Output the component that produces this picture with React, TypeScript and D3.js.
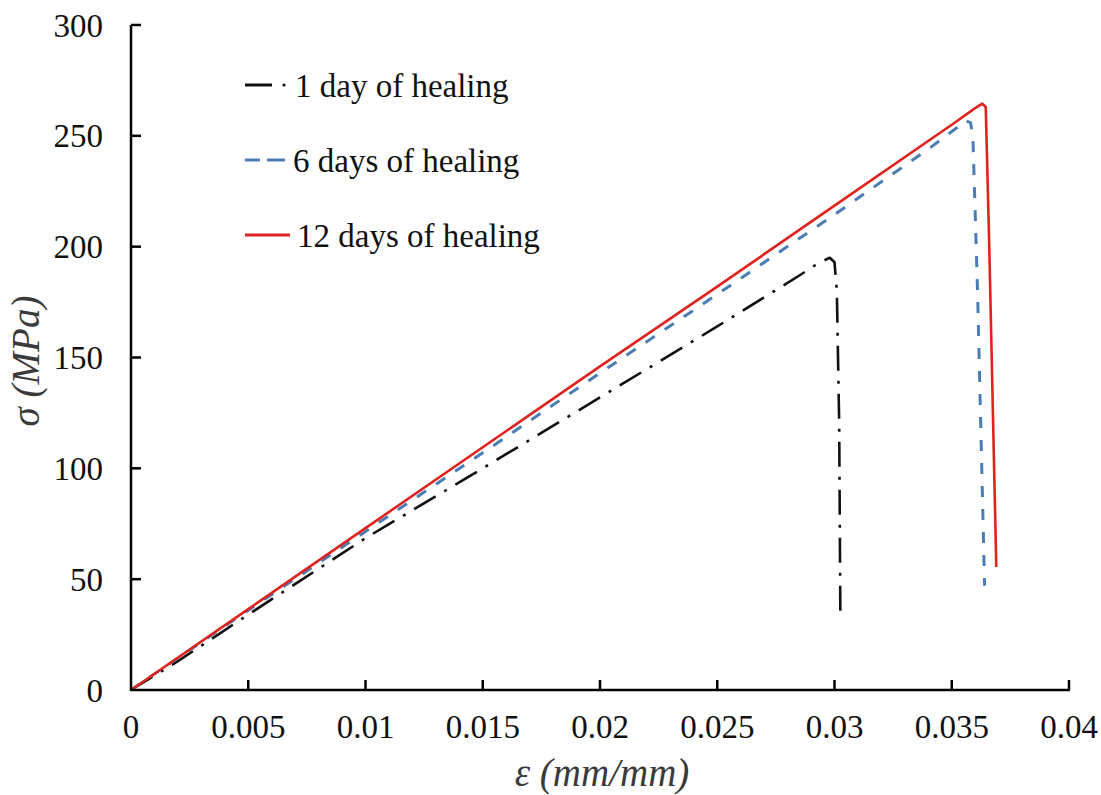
import React from "react";
import * as d3 from "d3";

const xTicks = [0, 0.005, 0.01, 0.015, 0.02, 0.025, 0.03, 0.035, 0.04];
const xTickLabels = ["0", "0.005", "0.01", "0.015", "0.02", "0.025", "0.03", "0.035", "0.04"];
const yTicks = [0, 50, 100, 150, 200, 250, 300];

const day1: [number, number][] = [
  [0, 0], [0.002, 13], [0.005, 34], [0.01, 68.5], [0.015, 100], [0.02, 132],
  [0.025, 164], [0.0285, 187], [0.0293, 192.5], [0.0298, 195], [0.0300, 193],
  [0.0301, 180], [0.0302, 120], [0.03025, 34],
];
const day6: [number, number][] = [
  [0, 0], [0.005, 36], [0.01, 71.5], [0.015, 107], [0.02, 143], [0.025, 178.5],
  [0.03, 214.5], [0.034, 244], [0.0352, 253.5], [0.03555, 257], [0.0358, 256],
  [0.0359, 250], [0.0361, 180], [0.0364, 47],
];
const day12: [number, number][] = [
  [0, 0], [0.005, 36.5], [0.01, 73], [0.015, 109.5], [0.02, 146], [0.025, 182],
  [0.03, 218.5], [0.035, 255], [0.0360, 262.5], [0.0363, 264.5], [0.03645, 263],
  [0.0366, 200], [0.0369, 55.5],
];

const series = [
  { name: "1 day of healing", data: day1, color: "#111111", dash: "25 10 3 10", width: 2.6 },
  { name: "6 days of healing", data: day6, color: "#4a7db3", dash: "11 12", width: 3 },
  { name: "12 days of healing", data: day12, color: "#e0231f", dash: "", width: 2.6 },
];

const W = 1101, H = 795;
const x0 = 131, x1 = 1069, y0 = 690, y1 = 25;
const FONT = "'Liberation Serif', 'Times New Roman', serif";

export default function App() {
  const x = d3.scaleLinear().domain([0, 0.04]).range([x0, x1]);
  const y = d3.scaleLinear().domain([0, 300]).range([y0, y1]);
  const line = d3.line<[number, number]>().x(d => x(d[0])).y(d => y(d[1]));
  const legendY = [85, 160, 235];
  const legendTx = [295, 293, 297];

  return (
    <svg width={W} height={H} style={{ position: "absolute", left: 0, top: 0, background: "#fff" }}>
      {series.map(s => (
        <path key={s.name} d={line(s.data) || ""} fill="none" stroke={s.color}
          strokeWidth={s.width} strokeDasharray={s.dash || undefined} strokeLinejoin="round" />
      ))}
      {/* axes */}
      <line x1={x0} y1={y0} x2={x1 + 1} y2={y0} stroke="#000" strokeWidth={2.5} />
      <line x1={x0} y1={y0 + 1} x2={x0} y2={y1} stroke="#000" strokeWidth={2.5} />
      {xTicks.map((t, i) => (
        <g key={"xt" + i}>
          {i > 0 && <line x1={x(t)} x2={x(t)} y1={y0} y2={y0 - 10} stroke="#000" strokeWidth={2.5} />}
          <text x={x(t)} y={738} textAnchor="middle" fontFamily={FONT} fontSize={33} fill="#111">{xTickLabels[i]}</text>
        </g>
      ))}
      {yTicks.map((t, i) => (
        <g key={"yt" + i}>
          {i > 0 && <line x1={x0} x2={x0 + 10} y1={y(t)} y2={y(t)} stroke="#000" strokeWidth={2.5} />}
          <text x={103} y={y(t) + 11.5} textAnchor="end" fontFamily={FONT} fontSize={33} fill="#111">{t}</text>
        </g>
      ))}
      <text x={602} y={786} textAnchor="middle" fontFamily={FONT} fontSize={39} fontStyle="italic" fill="#3a3a3a">ε (mm/mm)</text>
      <text transform={`translate(39,361) rotate(-90)`} textAnchor="middle" fontFamily={FONT} fontSize={39} fontStyle="italic" fill="#3a3a3a">σ (MPa)</text>
      {/* legend */}
      {series.map((s, i) => {
        const ly = legendY[i];
        return (
          <g key={"lg" + i}>
            {i === 0 ? (
              <>
                <line x1={245} x2={272} y1={ly} y2={ly} stroke={s.color} strokeWidth={3} />
                <circle cx={284} cy={ly} r={1.6} fill={s.color} />
              </>
            ) : i === 1 ? (
              <>
                <line x1={245} x2={260} y1={ly} y2={ly} stroke={s.color} strokeWidth={3} />
                <line x1={267} x2={285} y1={ly} y2={ly} stroke={s.color} strokeWidth={3} />
              </>
            ) : (
              <line x1={245} x2={290} y1={ly} y2={ly} stroke={s.color} strokeWidth={3} />
            )}
            <text x={legendTx[i]} y={ly + 12} fontFamily={FONT} fontSize={33} fill="#111">{s.name}</text>
          </g>
        );
      })}
    </svg>
  );
}
